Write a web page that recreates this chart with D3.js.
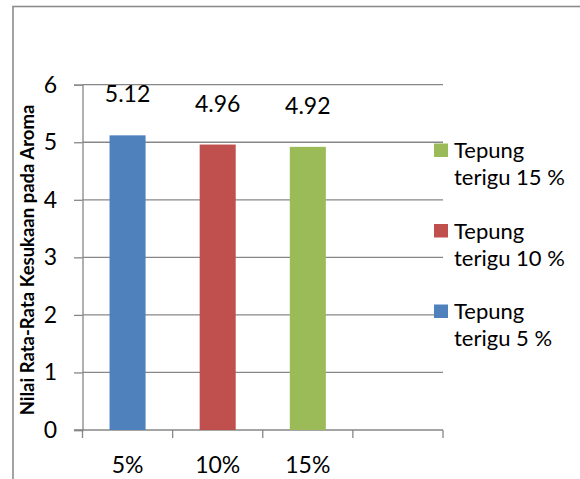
<!DOCTYPE html>
<html>
<head>
<meta charset="utf-8">
<script src="https://cdn.jsdelivr.net/npm/d3@7"></script>
<style>
  html, body { margin: 0; padding: 0; background: #fff; }
  svg { display: block; }
  text { font-family: Lato, "Open Sans", sans-serif; fill: #000; }
</style>
</head>
<body>
<svg id="chart" width="580" height="479"></svg>
<script>
// Mean aroma preference score per wheat-flour level
const categories = ["5%", "10%", "15%", ""];
const values = [5.12, 4.96, 4.92];
const valueLabels = ["5.12", "4.96", "4.92"];
const barColors = ["#4F81BD", "#C0504D", "#9BBB59"];
const seriesNames = ["Tepung terigu 5 %", "Tepung terigu 10 %", "Tepung terigu 15 %"];
const yTicks = [0, 1, 2, 3, 4, 5, 6];
const yTitle = "Nilai Rata-Rata Kesukaan pada Aroma";

const svg = d3.select("#chart");
const plot = { left: 82.5, right: 443, top: 84.7, bottom: 430 };
const gray = "#878787";

// outer chart frame (runs past the right and bottom edges)
svg.append("rect")
  .attr("x", 13).attr("y", 6.5)
  .attr("width", 700).attr("height", 600)
  .attr("fill", "none").attr("stroke", "#8c8c8c").attr("stroke-width", 1.6);

const x = d3.scaleBand().domain(categories).range([plot.left, plot.right]).paddingInner(0).paddingOuter(0);
const y = d3.scaleLinear().domain([0, 6]).range([plot.bottom, plot.top]);

// horizontal gridlines
svg.append("g").selectAll("line").data(yTicks.filter(t => t > 0)).join("line")
  .attr("x1", plot.left).attr("x2", plot.right)
  .attr("y1", d => y(d)).attr("y2", d => y(d))
  .attr("stroke", gray).attr("stroke-width", 1.3);

// y axis
const yAxis = svg.append("g").attr("transform", `translate(${plot.left},0)`)
  .call(d3.axisLeft(y).tickValues(yTicks).tickSize(8.5).tickPadding(17).tickFormat(d3.format("d")));
yAxis.select(".domain").attr("stroke", gray).attr("stroke-width", 1.3);
yAxis.selectAll(".tick line").attr("stroke", gray).attr("stroke-width", 1.3);
yAxis.selectAll(".tick text")
  .attr("font-size", 23).attr("font-family", "Lato, sans-serif").attr("fill", "#000");

// x axis: ticks on category boundaries
const xAxisG = svg.append("g");
xAxisG.append("line")
  .attr("x1", plot.left - 8.5).attr("x2", plot.right)
  .attr("y1", plot.bottom).attr("y2", plot.bottom)
  .attr("stroke", gray).attr("stroke-width", 1.3);
const boundaries = categories.map(c => x(c)).concat([x(categories[categories.length - 1]) + x.bandwidth()]);
xAxisG.selectAll("line.tk").data(boundaries).join("line").attr("class", "tk")
  .attr("x1", d => d).attr("x2", d => d)
  .attr("y1", plot.bottom).attr("y2", plot.bottom + 8)
  .attr("stroke", gray).attr("stroke-width", 1.3);
xAxisG.selectAll("text").data(categories.filter(c => c)).join("text")
  .attr("x", d => x(d) + x.bandwidth() / 2)
  .attr("y", 473)
  .attr("text-anchor", "middle")
  .attr("font-size", 23)
  .text(d => d);

// bars
const barW = x.bandwidth() * 0.4;
svg.append("g").selectAll("rect").data(values).join("rect")
  .attr("x", (d, i) => x(categories[i]) + (x.bandwidth() - barW) / 2)
  .attr("y", d => y(d))
  .attr("width", barW)
  .attr("height", d => y(0) - y(d))
  .attr("fill", (d, i) => barColors[i]);

// value labels
svg.append("g").selectAll("text").data(values).join("text")
  .attr("x", (d, i) => x(categories[i]) + x.bandwidth() / 2)
  .attr("y", d => y(d) - 33)
  .attr("text-anchor", "middle")
  .attr("font-size", 23)
  .text((d, i) => valueLabels[i]);

// y axis title
svg.append("text")
  .attr("transform", `translate(34,260) rotate(-90)`)
  .attr("text-anchor", "middle")
  .attr("font-size", 18.5)
  .attr("font-weight", "bold")
  .text(yTitle);

// legend, listed from the highest level down
const legendOrder = d3.range(seriesNames.length).reverse();
const lg = svg.append("g");
legendOrder.forEach((si, k) => {
  const base = 158 + k * 80.5;
  const words = seriesNames[si].split(" ");
  lg.append("rect")
    .attr("x", 434).attr("y", base - 14.5)
    .attr("width", 14).attr("height", 13.5)
    .attr("fill", barColors[si]);
  const t = lg.append("text").attr("x", 454).attr("y", base).attr("font-size", 22);
  t.append("tspan").attr("x", 454).attr("dy", 0).text(words[0]);
  t.append("tspan").attr("x", 454).attr("dy", 27).text(words.slice(1).join(" "));
});
</script>
</body>
</html>
